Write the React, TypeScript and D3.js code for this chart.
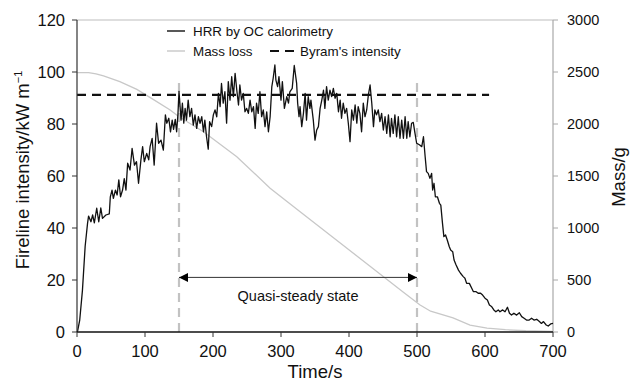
import React from "react";
import * as d3 from "d3";

const timeTicks = [0, 100, 200, 300, 400, 500, 600, 700];
const intensityTicks = [0, 20, 40, 60, 80, 100, 120];
const massTicks = [0, 500, 1000, 1500, 2000, 2500, 3000];

// HRR by OC calorimetry [time s, fireline intensity kW/m]
const hrrSeries: [number, number][] = [
  [0, 0], [1, 0.5], [4, 4.6], [8, 16], [12, 33], [15.5, 41.8], [17, 44.6], [20.5, 42.4], [23, 45], [25.5, 42],
  [29, 47.6], [32, 42.4], [35, 47.7], [37.5, 43.7], [42.5, 45], [47.5, 45.4], [49, 52], [51.5, 54.6], [53.5, 51.4],
  [56.5, 54.6], [59, 52.7], [61.5, 58.5], [64, 52], [67, 54.6], [69.5, 59], [72, 54.6], [74.5, 64.9], [78, 62.3],
  [81, 70.6], [84.5, 64.2], [87.5, 65.5], [90.5, 57.2], [94, 66.2], [96.5, 71.3], [99, 65.5], [102.5, 68.7],
  [105.5, 66.2], [107.5, 71.3], [110.5, 74.5], [113.5, 64.2], [117, 80.3], [120, 72.6], [123.5, 73.8], [127, 70],
  [130, 83.5], [132, 80.3], [135, 82.2], [137.5, 77], [140, 81.5], [142, 77.9], [144.5, 81.8], [146.5, 77],
  [148.5, 84], [150, 92.5], [153, 81.5], [155, 88], [157, 80.3], [159, 86], [161, 81.5], [163.5, 89.2], [166, 82.8],
  [168.5, 86], [171, 79.6], [173.5, 83.5], [176, 78.3], [178.5, 82.8], [181, 80.3], [183.5, 82.8], [186, 77],
  [188, 81.5], [190.5, 75.1], [193, 70.3], [195, 80.9], [198, 79], [200.5, 83.5], [203, 85.4], [205.5, 82.8],
  [208, 91.8], [210.5, 86.7], [212.5, 95.6], [215, 88], [217.5, 92.4], [220, 80.3], [222.5, 96.3], [225, 89.2],
  [227.5, 98.2], [230, 90.5], [232.5, 99.5], [235, 93], [237.5, 87.3], [239.5, 95], [242, 89.2], [244.5, 91.8],
  [247, 84.7], [249.5, 86], [252, 84.1], [254.5, 89.2], [257, 84.7], [259.5, 86.7], [262, 78.3], [264, 88],
  [266.5, 84.1], [269, 92.4], [271.5, 82.8], [274, 85.4], [276.5, 79], [279, 84.7], [281.5, 77], [284, 82.8],
  [286.5, 94.4], [288.5, 97.6], [291, 102.7], [292.5, 96.9], [295, 94.4], [297, 98.2], [300, 89.2], [302, 96.3],
  [305, 86], [308.5, 90.5], [311, 88], [313, 92.4], [316.5, 93.7], [319.5, 102.5], [323, 95.6], [324.5, 88],
  [326.5, 82.8], [328, 86.7], [330.5, 79], [333, 84.1], [335.5, 91.8], [337.5, 81.5], [340, 90.5], [342.5, 86],
  [344, 89.2], [347.5, 81.5], [350, 73.8], [352.5, 77.7], [355, 79], [357.5, 86], [360, 89.2], [362.5, 93],
  [364.5, 86], [367, 94.4], [369.5, 89.2], [372, 93], [374.5, 90.5], [377, 93.7], [379.5, 89.9], [382, 91.8],
  [384.5, 84.7], [387, 89.2], [389, 82.2], [391.5, 88], [394, 84.1], [396.5, 86], [399, 80.3], [401.5, 73.2],
  [404, 85.4], [406.5, 81.5], [409, 87.3], [411.5, 80.3], [413.5, 86.7], [416, 84.1], [418.5, 77], [421, 88],
  [423.5, 82.8], [426, 85.4], [428.5, 91.2], [431, 95], [433.5, 88], [436, 79], [438, 85.4], [440.5, 83.5],
  [443, 85.4], [445.5, 80.9], [448, 84.1], [450.5, 77.7], [453, 82.8], [455.5, 76.4], [458, 83.5], [460.5, 75.1],
  [462.5, 82.2], [465, 76.4], [467.5, 83.5], [470, 75.1], [472.5, 82.8], [475, 74.5], [477.5, 81.5], [480, 74.5],
  [482.5, 82.8], [485, 74.5], [487, 80.9], [489.5, 75.1], [492, 80.3], [494.5, 80.6], [497, 76.5], [499.5, 72.6],
  [503.5, 72], [507, 71.3], [509.5, 75.1], [512, 67.4], [514, 61.7], [516.5, 61], [519, 59.1], [521.5, 61],
  [523, 54.6], [525, 57.2], [527, 52], [530, 52], [533, 49.5], [535, 48.8], [537.5, 41.8], [539.5, 36.7],
  [542, 37.3], [544.5, 35.4], [547.5, 32.8], [549.5, 31.5], [552.5, 30.9], [554.5, 27.7], [557.5, 25.8],
  [561, 23.8], [564, 22.6], [568, 21.3], [570.5, 20.7], [573, 18.7], [577, 18.7], [580.5, 16.8], [583, 15.5],
  [587, 15.5], [590, 14.9], [593.5, 14.9], [596.5, 14.2], [600, 13], [603.5, 12.3], [606.5, 10.4], [610, 9.7],
  [613, 8.5], [616, 7.8], [619.5, 8.5], [622, 7.8], [626, 8.5], [629.5, 7.8], [633, 9.5], [636, 7.2], [639, 6.5],
  [642.5, 7.2], [646.5, 6.5], [650.5, 7.4], [654, 5.9], [657.5, 5.3], [661, 4.6], [665, 4.6], [668.5, 5.3],
  [672, 4.6], [676, 4.9], [680, 4], [683, 3.3], [686, 4], [690, 2.7], [693, 2.3], [696.5, 3.1], [700, 3.3],
];

// Mass loss [time s, mass g]
const massSeries: [number, number][] = [
  [0, 2494], [10, 2494], [17, 2494], [28, 2482], [39, 2462], [63, 2407], [88, 2333], [112, 2237], [137, 2135],
  [150, 2070], [186, 1926], [235, 1686], [284, 1382], [330, 1147], [380, 892], [430, 637], [480, 382],
  [504, 262], [520, 200], [553, 135], [578, 67], [603, 38], [630, 22], [660, 12], [700, 6],
];

const byramIntensity = 91.2;
const byramEnd = 606;
const steadyStart = 150;
const steadyEnd = 500;
const steadyLineTop = 97.7;
const arrowLevel = 21;
const arrowLabelLevel = 14;

const FONT = "'Liberation Sans', Arial, Helvetica, sans-serif";

export default function App() {
  const x = d3.scaleLinear().domain([0, 700]).range([77, 553]);
  const y = d3.scaleLinear().domain([0, 120]).range([332, 20]);
  const y2 = d3.scaleLinear().domain([0, 3000]).range([332, 20]);

  const hrrLine = d3
    .line<[number, number]>()
    .x((d) => x(d[0]))
    .y((d) => y(d[1]));
  const massLine = d3
    .line<[number, number]>()
    .x((d) => x(d[0]))
    .y((d) => y2(d[1]));

  const [x0, x1] = x.range();
  const [yb, yt] = y.range();

  return (
    <svg
      width={630}
      height={382}
      style={{ position: "absolute", left: 0, top: 0, background: "#fff" }}
      fontFamily={FONT}
    >
      <defs>
        <marker
          id="arr"
          viewBox="0 0 10 10"
          refX={10}
          refY={5}
          markerWidth={9}
          markerHeight={10}
          markerUnits="userSpaceOnUse"
          orient="auto-start-reverse"
        >
          <path d="M0,0 L10,5 L0,10 Z" fill="#000" />
        </marker>
      </defs>

      {/* frame: top + right in grey */}
      <line x1={x0} x2={x1} y1={yt} y2={yt} stroke="#bdbdbd" strokeWidth={1.2} />
      <line x1={x1} x2={x1} y1={yt} y2={yb} stroke="#a8a8a8" strokeWidth={1.2} />

      {/* quasi-steady vertical dashed lines */}
      {[steadyStart, steadyEnd].map((t) => (
        <line
          key={t}
          x1={x(t)}
          x2={x(t)}
          y1={y(0)}
          y2={y(steadyLineTop)}
          stroke="#c2c2c2"
          strokeWidth={2.2}
          strokeDasharray="9,6"
        />
      ))}

      {/* mass loss */}
      <path d={massLine(massSeries) || ""} fill="none" stroke="#c8c8c8" strokeWidth={1.3} />

      {/* Byram's intensity */}
      <line
        x1={x(0)}
        x2={x(byramEnd)}
        y1={y(byramIntensity)}
        y2={y(byramIntensity)}
        stroke="#111"
        strokeWidth={2.2}
        strokeDasharray="9,6"
      />

      {/* HRR */}
      <path d={hrrLine(hrrSeries) || ""} fill="none" stroke="#111" strokeWidth={1.3} strokeLinejoin="round" />

      {/* arrow */}
      <line
        x1={x(steadyStart)}
        x2={x(steadyEnd)}
        y1={y(arrowLevel)}
        y2={y(arrowLevel)}
        stroke="#333"
        strokeWidth={1}
        markerStart="url(#arr)"
        markerEnd="url(#arr)"
      />
      <text
        x={(x(steadyStart) + x(steadyEnd)) / 2}
        y={y(arrowLabelLevel) + 5}
        textAnchor="middle"
        fontSize={14.5}
        fill="#111"
      >
        Quasi-steady state
      </text>

      {/* left axis */}
      <line x1={x0} x2={x0} y1={yt} y2={yb} stroke="#333" strokeWidth={1.2} />
      {intensityTicks.map((v) => (
        <g key={v}>
          <line x1={x0 - 5} x2={x0} y1={y(v)} y2={y(v)} stroke="#333" strokeWidth={1} />
          <text x={65} y={y(v) + 6} textAnchor="end" fontSize={16.5} fill="#111">
            {v}
          </text>
        </g>
      ))}

      {/* right axis ticks */}
      {massTicks.map((v) => (
        <g key={v}>
          <line x1={x1} x2={x1 + 5} y1={y2(v)} y2={y2(v)} stroke="#a8a8a8" strokeWidth={1} />
          <text x={567} y={y2(v) + 5} textAnchor="start" fontSize={14.5} fill="#111">
            {v}
          </text>
        </g>
      ))}

      {/* bottom axis */}
      <line x1={x0} x2={x1} y1={yb} y2={yb} stroke="#111" strokeWidth={1.3} />
      {timeTicks.map((t) => (
        <g key={t}>
          <line x1={x(t)} x2={x(t)} y1={yb} y2={yb + 5} stroke="#333" strokeWidth={1} />
          <text x={x(t)} y={357} textAnchor="middle" fontSize={16.5} fill="#111">
            {t}
          </text>
        </g>
      ))}

      {/* axis titles */}
      <text x={315} y={378} textAnchor="middle" fontSize={18.5} fill="#111">
        Time/s
      </text>
      <text
        transform={`translate(29,170) rotate(-90)`}
        textAnchor="middle"
        fontSize={18.5}
        fill="#111"
      >
        Fireline intensity/kW m
        <tspan dy={-7} fontSize={11}>
          −1
        </tspan>
      </text>
      <text
        transform={`translate(625,177) rotate(-90)`}
        textAnchor="middle"
        fontSize={18.5}
        fill="#111"
      >
        Mass/g
      </text>

      {/* legend */}
      <line x1={167} x2={185} y1={31} y2={31} stroke="#111" strokeWidth={1.4} />
      <text x={193} y={36} fontSize={13.4} fill="#111">
        HRR by OC calorimetry
      </text>
      <line x1={167} x2={185} y1={51} y2={51} stroke="#c8c8c8" strokeWidth={1.4} />
      <text x={193} y={56} fontSize={13.4} fill="#111">
        Mass loss
      </text>
      <line x1={270} x2={295} y1={51} y2={51} stroke="#111" strokeWidth={2.2} strokeDasharray="9,6" />
      <text x={300} y={56} fontSize={13.4} fill="#111">
        Byram's intensity
      </text>
    </svg>
  );
}
